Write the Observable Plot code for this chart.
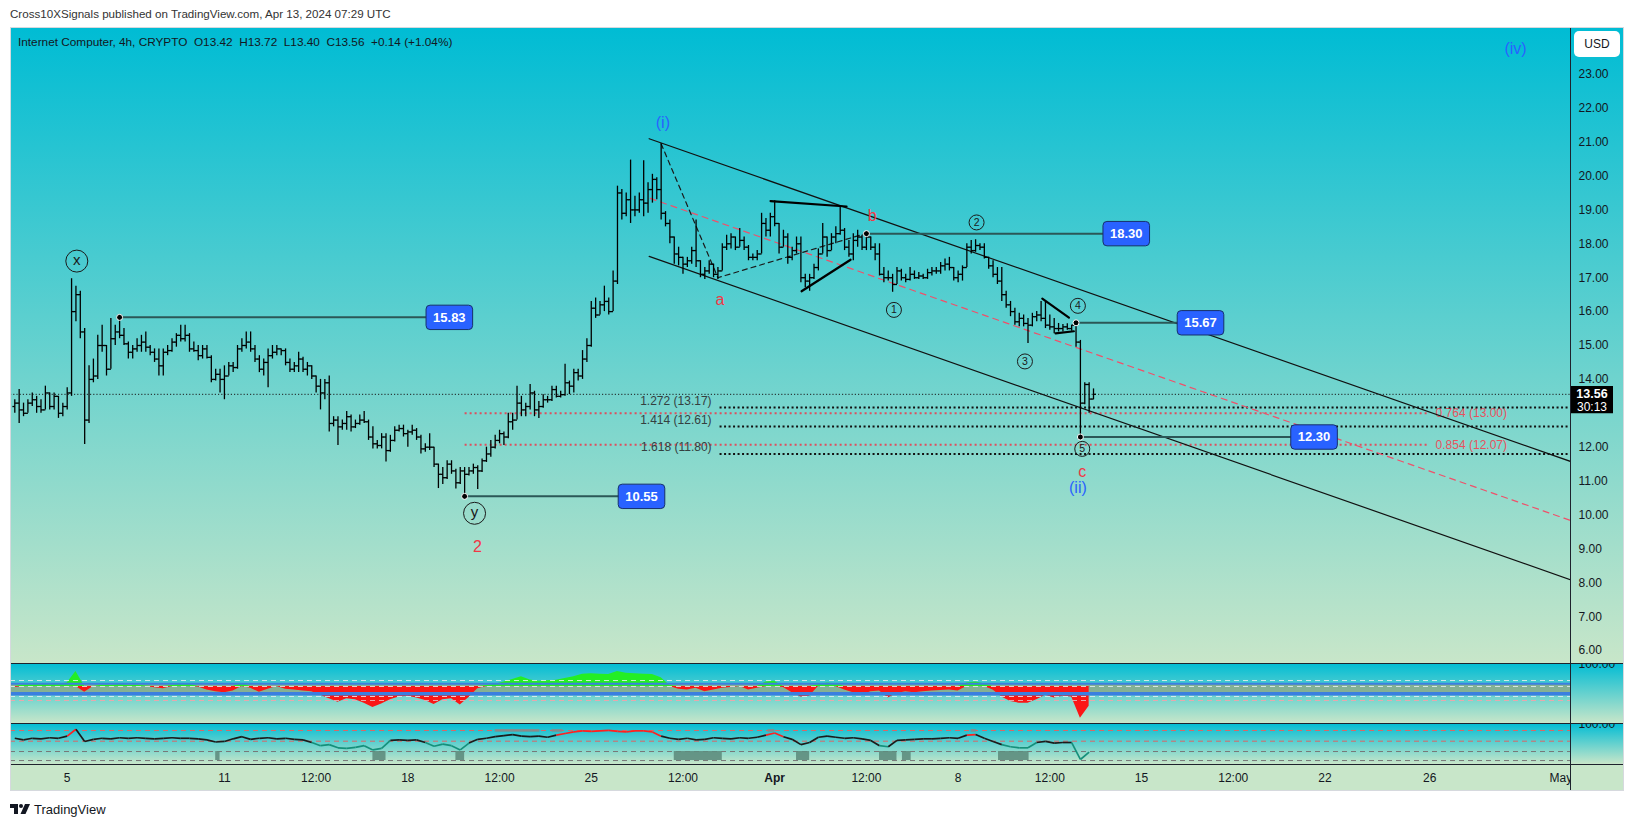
<!DOCTYPE html>
<html><head><meta charset="utf-8">
<script src="https://cdn.jsdelivr.net/npm/d3@7"></script>
<script src="https://cdn.jsdelivr.net/npm/@observablehq/plot@0.6"></script>
<style>
body{margin:0;background:#fff;width:1634px;height:827px;position:relative;overflow:hidden;font-family:"Liberation Sans",Arial,sans-serif;}
.abs{position:absolute;}
.grad{background:linear-gradient(to bottom,#00bcd4,#c8e6c9);}
.hl{position:absolute;left:10px;width:1614px;height:1px;background:#1e222d;}
</style></head><body>
<div class="abs" style="left:10px;top:7px;font-size:11.6px;color:#333;white-space:pre">Cross10XSignals published on TradingView.com, Apr 13, 2024 07:29 UTC</div>
<div class="abs grad" style="left:10px;top:27px;width:1614px;height:636px"></div>
<div class="abs grad" style="left:10px;top:663px;width:1614px;height:60px"></div>
<div class="abs grad" style="left:10px;top:723px;width:1614px;height:41px"></div>
<div class="abs" style="left:10px;top:764px;width:1614px;height:27px;background:#c8e6c9"></div>
<div id="main" class="abs" style="left:0;top:27px"></div>
<div id="p1" class="abs" style="left:0;top:663px"></div>
<div id="p2" class="abs" style="left:0;top:723px"></div>
<div id="tx" class="abs" style="left:0;top:764px"></div>
<div class="hl" style="top:663px"></div>
<div class="hl" style="top:723px"></div>
<div class="hl" style="top:764px"></div>
<div class="abs" style="left:1570px;top:27px;width:1px;height:764px;background:#1e222d"></div>
<div class="abs" style="left:10px;top:27px;width:1614px;height:764px;border:1px solid #d6d9de;box-sizing:border-box"></div>
<div class="abs" style="left:18px;top:35px;font-size:11.8px;color:#131722;white-space:pre">Internet Computer, 4h, CRYPTO  O13.42  H13.72  L13.40  C13.56  +0.14 (+1.04%)</div>
<div class="abs" style="left:1574px;top:31px;width:46px;height:26px;background:#fff;border-radius:5px;font-size:12px;color:#131722;text-align:center;line-height:26px">USD</div>
<div class="abs" style="left:10px;top:801px;height:16px;display:flex;align-items:center;gap:3px">
<svg width="21" height="12" viewBox="0 0 21 12"><path d="M0 1h8v10h-4v-6h-4z" fill="#131722"/><circle cx="11" cy="3" r="2" fill="#131722"/><path d="M15 1h5l-4.5 10h-5z" fill="#131722"/></svg>
<span style="font-size:13px;color:#131722">TradingView</span></div>
<script>
// ---------- data ----------
const barStart = "2024-03-03T00:00:00Z"; // 4h bars
const open = [
13.2,13.3,13.1,13.0,13.3,13.4, 13.2,13.1,13.6,13.2,13.5,13.0,
13.2,13.6,16.0,16.5,15.4,12.8, 14.0,14.1,15.0,15.0,14.3,15.2,
15.4,15.3,15.05,14.8,14.9,15.0, 15.1,14.95,14.8,14.6,14.4,14.8,
14.85,15.1,15.3,15.2,15.3,14.9, 14.85,14.7,14.9,14.65,14.0,14.15,
14.0,14.1,14.4,14.35,14.9,15.0, 15.1,14.9,14.6,14.3,14.5,14.7,
14.8,14.9,14.85,14.5,14.3,14.4, 14.6,14.3,14.4,14.1,13.8,13.6,
13.9,12.7,12.8,12.6,12.7,12.9, 12.6,12.7,12.8,12.75,12.3,12.1,
12.05,12.3,11.9,12.2,12.5,12.55, 12.4,12.45,12.5,12.3,11.95,12.0,
12.0,11.5,11.2,11.1,11.5,11.3, 10.95,11.3,11.2,11.3,11.4,11.3,
11.6,11.8,12.0,12.2,12.4,12.3, 12.75,12.8,13.3,13.1,13.2,13.6,
13.1,13.2,13.4,13.4,13.7,13.5, 13.55,13.9,13.8,14.2,14.1,14.6,
15.0,16.1,15.9,16.2,16.3,16.0, 16.9,19.5,18.9,19.3,19.0,19.0,
19.3,19.2,19.6,19.9,19.6,18.9, 18.6,18.2,17.7,17.6,17.4,17.5,
17.8,17.5,17.1,17.2,17.4,17.1, 17.2,17.9,18.0,18.2,17.9,18.1,
17.9,17.6,17.6,17.7,18.6,18.4, 18.8,18.6,17.9,18.2,17.6,17.8,
18.0,17.0,16.9,17.0,17.3,17.7, 18.2,17.8,18.2,18.3,18.4,17.9,
17.7,18.1,18.2,17.9,18.2,17.9, 17.7,17.1,17.0,17.0,16.8,17.2,
17.0,16.95,17.1,17.0,17.05,17.0, 17.15,17.2,17.2,17.35,17.4,17.3,
17.0,17.1,17.3,17.9,17.8,17.95, 17.9,17.6,17.35,17.1,16.9,16.5,
16.2,16.0,15.7,15.8,15.65,15.6, 15.85,15.9,15.8,15.6,15.55,15.5,
15.5,15.55,15.5,15.6,15.1,13.3, 13.85,13.42];
const high = [
13.4,13.7,13.3,13.4,13.6,13.5, 13.4,13.8,13.6,13.6,13.5,13.3,
13.75,16.97,16.75,16.6,15.5,14.4, 14.6,15.3,15.6,15.0,15.8,15.6,
15.83,15.5,15.1,15.0,15.2,15.3, 15.4,15.0,14.9,14.9,14.9,15.0,
15.2,15.35,15.6,15.6,15.35,15.1, 15.0,15.0,15.0,14.7,14.3,14.3,
14.4,14.5,14.5,15.0,15.2,15.4, 15.4,15.0,14.7,14.6,14.9,15.0,
15.0,14.9,14.9,14.6,14.5,14.8, 14.65,14.5,14.4,14.1,14.0,14.0,
14.1,12.9,12.9,12.8,13.05,12.95, 12.8,12.95,13.05,12.8,12.6,12.2,
12.4,12.4,12.35,12.6,12.65,12.65, 12.5,12.65,12.55,12.35,12.1,12.4,
12.0,11.5,11.4,11.6,11.6,11.35, 11.4,11.4,11.4,11.5,11.45,11.65,
12.0,12.2,12.35,12.5,12.45,13.0, 13.0,13.8,13.5,13.3,13.85,13.65,
13.35,13.55,13.5,13.8,13.8,13.65, 14.45,13.95,14.3,14.3,14.85,15.2,
16.3,16.4,16.3,16.75,16.4,17.2, 19.7,19.6,19.5,20.47,19.4,19.5,
20.45,19.8,20.05,19.95,20.95,18.95, 18.7,18.2,17.9,17.6,17.6,17.9,
18.7,17.5,17.3,17.5,17.4,17.3, 18.0,18.25,18.3,18.2,18.45,18.2,
17.95,17.7,17.8,18.9,18.75,18.9, 19.27,18.6,18.4,18.3,17.9,18.2,
18.2,17.1,17.1,17.4,17.85,18.6, 18.2,18.3,18.5,19.13,18.45,18.1,
18.3,18.4,18.25,18.31,18.2,18.0, 18.0,17.3,17.2,17.1,17.3,17.25,
17.1,17.3,17.2,17.15,17.1,17.25, 17.3,17.3,17.45,17.55,17.6,17.3,
17.2,17.35,18.0,18.1,18.12,18.0, 18.0,17.6,17.5,17.3,17.3,16.6,
16.3,16.1,15.95,15.9,15.8,15.95, 16.0,16.3,16.3,15.9,15.8,15.65,
15.62,15.64,15.6,15.67,15.15,13.9, 13.9,13.72];
const low = [
13.0,12.7,12.9,13.0,13.2,13.0, 13.0,13.1,13.1,13.1,12.85,12.9,
13.1,13.5,15.7,15.2,12.08,12.7, 13.9,14.0,14.8,14.1,14.3,15.0,
15.2,15.0,14.6,14.6,14.8,14.8, 14.8,14.7,14.5,14.1,14.1,14.7,
14.8,14.95,15.1,15.1,14.8,14.8, 14.55,14.6,14.6,13.9,13.95,13.6,
13.4,14.1,14.2,14.3,14.8,14.9, 14.8,14.5,14.2,14.1,13.75,14.6,
14.7,14.7,14.4,14.2,14.2,14.2, 14.2,14.1,14.0,13.6,13.1,13.4,
12.45,12.6,12.05,12.5,12.5,12.45, 12.55,12.65,12.7,12.2,11.95,11.95,
11.95,11.56,11.85,12.15,12.45,12.3, 12.0,12.35,12.2,11.8,11.85,11.9,
11.4,10.78,10.9,11.05,11.2,10.77, 10.9,10.55,11.15,11.2,10.75,11.25,
11.55,11.7,11.95,12.1,12.05,12.25, 12.5,12.8,12.9,12.9,13.1,12.9,
12.85,13.15,13.3,13.35,13.45,13.45, 13.5,13.55,13.6,13.95,14.0,14.5,
14.95,15.8,15.9,16.0,15.9,16.0, 16.8,18.7,18.8,18.6,18.8,18.9,
18.8,18.9,19.2,19.3,18.7,18.5, 18.0,17.4,17.35,17.1,17.3,17.4,
17.3,17.0,16.95,17.1,17.0,16.95, 17.2,17.8,17.85,17.8,17.9,17.8,
17.5,17.5,17.5,17.7,18.2,18.2, 18.5,17.7,17.9,17.4,17.5,17.7,
16.85,16.7,16.6,16.95,17.2,17.7, 17.6,17.8,18.0,18.25,17.8,17.6,
17.5,17.9,17.8,17.8,17.8,17.5, 17.05,16.85,16.9,16.57,16.8,16.9,
16.85,16.9,16.95,16.95,16.95,16.95, 17.05,17.1,17.1,17.2,17.2,16.9,
16.85,16.9,17.3,17.7,17.75,17.8, 17.55,17.25,17.0,16.8,16.3,16.1,
15.85,15.6,15.55,15.55,15.06,15.55, 15.7,15.7,15.5,15.45,15.35,15.4,
15.4,15.45,15.42,14.95,12.3,13.25, 13.0,13.40];
const close = [
13.3,13.1,13.0,13.3,13.4,13.2, 13.1,13.6,13.2,13.5,13.0,13.2,
13.6,16.0,16.5,15.4,12.8,14.0, 14.1,15.0,15.0,14.3,15.2,15.4,
15.3,15.05,14.8,14.9,15.0,15.1, 14.95,14.8,14.6,14.4,14.8,14.85,
15.1,15.3,15.2,15.3,14.9,14.85, 14.7,14.9,14.65,14.0,14.15,14.0,
14.1,14.4,14.35,14.9,15.0,15.1, 14.9,14.6,14.3,14.5,14.7,14.8,
14.9,14.85,14.5,14.3,14.4,14.6, 14.3,14.4,14.1,13.8,13.6,13.9,
12.7,12.8,12.6,12.7,12.9,12.6, 12.7,12.8,12.75,12.3,12.1,12.05,
12.3,11.9,12.2,12.5,12.55,12.4, 12.45,12.5,12.3,11.95,12.0,12.0,
11.5,11.2,11.1,11.5,11.3,10.95, 11.3,11.2,11.3,11.4,11.3,11.6,
11.8,12.0,12.2,12.4,12.3,12.75, 12.8,13.3,13.1,13.2,13.6,13.1,
13.2,13.4,13.4,13.7,13.5,13.55, 13.9,13.8,14.2,14.1,14.6,15.0,
16.1,15.9,16.2,16.3,16.0,16.9, 19.5,18.9,19.3,19.0,19.0,19.3,
19.2,19.6,19.9,19.6,18.9,18.6, 18.2,17.7,17.6,17.4,17.5,17.8,
17.5,17.1,17.2,17.4,17.1,17.2, 17.9,18.0,18.2,17.9,18.1,17.9,
17.6,17.6,17.7,18.6,18.4,18.8, 18.6,17.9,18.2,17.6,17.8,18.0,
17.0,16.9,17.0,17.3,17.7,18.2, 17.8,18.2,18.3,18.4,17.9,17.7,
18.1,18.2,17.9,18.2,17.9,17.7, 17.1,17.0,17.0,16.8,17.2,17.0,
16.95,17.1,17.0,17.05,17.0,17.15, 17.2,17.2,17.35,17.4,17.3,17.0,
17.1,17.3,17.9,17.8,17.95,17.9, 17.6,17.35,17.1,16.9,16.5,16.2,
16.0,15.7,15.8,15.65,15.6,15.85, 15.9,15.8,15.6,15.55,15.5,15.5,
15.55,15.5,15.6,15.1,13.3,13.85, 13.42,13.56];
const lastClose = 13.56;
const countdown = "30:13";

// swing pivots with their value boxes
const pivotTime = ["2024-03-07T00:00Z","2024-03-20T04:00Z","2024-04-04T12:00Z","2024-04-12T12:00Z","2024-04-12T16:00Z"];
const pivotPrice = [15.83, 10.55, 18.30, 15.67, 12.30];
const pivotBoxTime = ["2024-03-19T14:00Z","2024-03-26T22:00Z","2024-04-14T10:00Z","2024-04-17T06:00Z","2024-04-21T14:00Z"];

// channel and drawings (time, price anchors)
const channelUpper = [["2024-03-27T05:00Z",21.10],["2024-05-01T08:53Z",11.58]];
const channelLower = [["2024-03-27T05:00Z",17.63],["2024-05-01T08:53Z",8.09]];
const channelMid   = [["2024-03-27T06:00Z",19.34],["2024-05-01T08:53Z",9.84]];
const abcPath = [["2024-03-27T16:00Z",20.95],["2024-03-29T20:00Z",17.0],["2024-04-04T12:00Z",18.31]];
const triangles = [
  [["2024-03-31T20:12Z",19.26],["2024-04-03T17:48Z",19.10]],
  [["2024-04-02T00:36Z",16.60],["2024-04-03T21:30Z",17.53]],
  [["2024-04-11T05:06Z",16.38],["2024-04-12T05:30Z",15.82]],
  [["2024-04-11T17:18Z",15.36],["2024-04-12T10:00Z",15.42]]];

// fibonacci levels
const fibExtValues = [13.17, 12.61, 11.80];
const fibExtLabels = ["1.272 (13.17)", "1.414 (12.61)", "1.618 (11.80)"];
const fibExtStart = "2024-03-29T21:30Z";
const fibRetValues = [13.00, 12.07];
const fibRetLabels = ["0.764 (13.00)", "0.854 (12.07)"];
const fibRetStart = "2024-03-20T04:00Z", fibRetEnd = "2024-04-25T22:00Z";

// wave labels
const bigCircleLabels = [["2024-03-05T08:48Z",17.49,"x"],["2024-03-20T13:06Z",10.05,"y"]];
const smallCircleLabels = [["2024-04-05T13:12Z",16.05,"1"],["2024-04-08T16:54Z",18.63,"2"],["2024-04-10T13:12Z",14.53,"3"],["2024-04-12T13:42Z",16.17,"4"],["2024-04-12T17:42Z",11.95,"5"]];
const redLabels = [["2024-03-20T15:48Z",9.07,"2"],["2024-03-29T21:48Z",16.35,"a"],["2024-04-04T17:24Z",18.83,"b"],["2024-04-12T17:42Z",11.26,"c"]];
const blueLabels = [["2024-03-27T17:36Z",21.56,"(i)"],["2024-04-12T13:42Z",10.79,"(ii)"],["2024-04-29T06:36Z",23.75,"(iv)"]];

// price axis (13.00 is hidden behind the last-price tag)
const priceTicks = [6,7,8,9,10,11,12,14,15,16,17,18,19,20,21,22,23];

// indicator 1 (8h samples)
const osc1 = [48,54,54,55,54,55,58,84,37,50, 53,52,55,52,53,51,47,45,52,56,
 55,49,42,38,36,40,57,46,37,44, 50,44,42,40,38,30,22,14,22,20,
 12,2,10,20,26,28,24,18,9,20, 22,8,25,45,52,55,60,66,72,65,
 62,63,64,68,72,78,79,78,77,84, 80,79,78,77,70,52,44,42,46,38,
 42,46,48,50,42,46,60,62,48,36, 26,28,54,58,56,42,36,30,38,40,
 24,34,38,36,38,40,41,42,40,58, 60,56,42,26,16,12,12,20,30,24,
 28,26,-22,5];
const osc1Base = 50;
const osc1Dashed = [63.6, 50, 27.3];
const osc1Blue = [56.1, 33.4];
const osc1Pink = [18.2];
// indicator 2 (8h samples)
const osc2 = [74,71,74,73,75,74,78,91,68,72, 74,73,75,74,75,74,73,74,75,74,
 74,73,71,67,68,73,77,72,74,75, 73,74,72,71,66,60,62,56,55,57,
 60,52,55,70,71,70,71,66,59,63, 60,52,65,72,74,77,79,81,78,77,
 78,76,80,83,86,88,87,88,89,87, 86,88,88,86,78,74,72,74,71,72,
 75,74,73,75,74,76,80,84,77,72, 62,66,76,78,76,74,75,73,70,60,
 58,70,71,72,73,73,74,75,74,80, 81,74,68,62,58,56,56,66,68,65,
 66,66,34,48];
const osc2RedLevels = [88.7, 68.5];
const osc2GrayLevels = [49, 32];
const lowBlocks = [["2024-03-10T16:00Z","2024-03-10T20:00Z"],["2024-03-16T16:00Z","2024-03-17T04:00Z"],["2024-03-19T20:00Z","2024-03-20T04:00Z"],["2024-03-28T04:00Z","2024-03-30T00:00Z"],["2024-04-01T20:00Z","2024-04-02T08:00Z"],["2024-04-05T00:00Z","2024-04-05T16:00Z"],["2024-04-05T21:00Z","2024-04-06T05:00Z"],["2024-04-09T13:00Z","2024-04-10T17:00Z"]];
const highBlocks = [["2024-03-21T08:00Z","2024-03-23T01:00Z"],["2024-03-23T12:00Z","2024-03-23T22:00Z"],["2024-03-31T18:00Z","2024-04-01T00:00Z"],["2024-04-08T12:00Z","2024-04-08T17:00Z"]];

// time axis
const timeTicks = ["2024-03-05","2024-03-11","2024-03-14T12:00Z","2024-03-18","2024-03-21T12:00Z","2024-03-25","2024-03-28T12:00Z","2024-04-01","2024-04-04T12:00Z","2024-04-08","2024-04-11T12:00Z","2024-04-15","2024-04-18T12:00Z","2024-04-22","2024-04-26","2024-05-01"];
const timeLabels = ["5","11","12:00","18","12:00","25","12:00","Apr","12:00","8","12:00","15","12:00","22","26","May"];

// ---------- build ----------
const H4 = 4*3600e3, H8 = 8*3600e3, t0 = Date.parse(barStart);
const bars = close.map((c,i)=>({t:new Date(t0+i*H4), o:open[i], h:high[i], l:low[i], c}));
const pivots = pivotPrice.map((p,i)=>({t:new Date(pivotTime[i]), bt:new Date(pivotBoxTime[i]), p}));
const pts = a => a.map(([t,p])=>({t:new Date(t), p}));
const lab = a => a.map(([t,p,s])=>({t:new Date(t), p, s}));
const o1 = osc1.map((v,k)=>({t:new Date(t0+k*H8), v}));
const o2 = osc2.map((v,k)=>({t:new Date(t0+k*H8), v}));
const segs = d3.pairs(o2).map(([a,b])=>({a,b}));
const blk = a => a.map(([s,e])=>({s:new Date(s), e:new Date(e)}));

const leftTick = {draw(c){c.moveTo(-2.4,0);c.lineTo(0,0);}};
const rightTick = {draw(c){c.moveTo(0,0);c.lineTo(2.4,0);}};
function rr(c,x,y,w,h,r){c.moveTo(x+r,y);c.lineTo(x+w-r,y);c.arcTo(x+w,y,x+w,y+r,r);c.lineTo(x+w,y+h-r);c.arcTo(x+w,y+h,x+w-r,y+h,r);c.lineTo(x+r,y+h);c.arcTo(x,y+h,x,y+h-r,r);c.lineTo(x,y+r);c.arcTo(x,y,x+r,y,r);c.closePath();}
const labelBox = {draw(c){rr(c,-23.3,-12.2,46.6,24.4,4);}};
const priceBox = {draw(c){c.moveTo(-21,-8.3);c.lineTo(21,-8.3);c.lineTo(21,19);c.lineTo(-21,19);c.closePath();}};

const FONT = "Liberation Sans, Arial, sans-serif";
const X = {type:"utc", domain:[new Date("2024-03-02T20:04:00Z"), new Date("2024-05-01T08:53:00Z")], axis:null};
const base = {width:1634, marginLeft:10, marginRight:64, marginTop:0, marginBottom:0,
  style:{background:"transparent", overflow:"hidden", fontFamily:FONT}};

const main = Plot.plot({...base, height:636, x:X, y:{domain:[5.619,24.381], axis:null},
  marks:[
    Plot.ruleY([lastClose], {stroke:"#1b1b1b", strokeWidth:1, strokeDasharray:"1.2,2"}),
    Plot.link(fibRetValues, {x1:()=>new Date(fibRetStart), x2:()=>new Date(fibRetEnd), y1:d=>d, y2:d=>d, stroke:"#f0364a", strokeWidth:2, strokeDasharray:"2,3", strokeOpacity:0.85}),
    Plot.text(fibRetValues, {x:()=>new Date(fibRetEnd), y:d=>d, text:(d,i)=>fibRetLabels[i], dx:8, textAnchor:"start", fill:"#e8515e", fontSize:12}),
    Plot.link(fibExtValues, {x1:()=>new Date(fibExtStart), x2:()=>X.domain[1], y1:d=>d, y2:d=>d, stroke:"#111", strokeWidth:2, strokeDasharray:"2,2.5"}),
    Plot.text(fibExtValues, {x:()=>new Date(fibExtStart), y:d=>d, text:(d,i)=>fibExtLabels[i], dx:-8, dy:-3, lineAnchor:"bottom", textAnchor:"end", fill:"#34403f", fontSize:12}),
    Plot.line(pts(channelMid), {x:"t", y:"p", stroke:"#f0506a", strokeWidth:1.2, strokeDasharray:"6,5", clip:true}),
    Plot.line(pts(channelUpper), {x:"t", y:"p", stroke:"#111", strokeWidth:1.2, clip:true}),
    Plot.line(pts(channelLower), {x:"t", y:"p", stroke:"#111", strokeWidth:1.2, clip:true}),
    Plot.line(pts(abcPath), {x:"t", y:"p", stroke:"#1a1a1a", strokeWidth:1.2, strokeDasharray:"5,4"}),
    ...triangles.map(tr=>Plot.line(pts(tr), {x:"t", y:"p", stroke:"#000", strokeWidth:2.2})),
    Plot.ruleX(bars, {x:"t", y1:"l", y2:"h", stroke:"#000", strokeWidth:1.3, clip:true}),
    Plot.dot(bars, {x:"t", y:"o", symbol:leftTick, fill:"none", stroke:"#000", strokeWidth:1.3, clip:true}),
    Plot.dot(bars, {x:"t", y:"c", symbol:rightTick, fill:"none", stroke:"#000", strokeWidth:1.3, clip:true}),
    Plot.link(pivots, {x1:"t", x2:"bt", y1:"p", y2:"p", stroke:"#2b5757", strokeWidth:2}),
    Plot.dot(pivots, {x:"t", y:"p", r:3, fill:"#000", stroke:"#fff", strokeWidth:1}),
    Plot.dot(pivots, {x:"bt", y:"p", symbol:labelBox, fill:"#2962ff", stroke:"#17306b", strokeWidth:1}),
    Plot.text(pivots, {x:"bt", y:"p", text:d=>d.p.toFixed(2), fill:"#fff", fontWeight:"bold", fontSize:13}),
    Plot.dot(lab(bigCircleLabels), {x:"t", y:"p", r:11, fill:"none", stroke:"#1a1a1a", strokeWidth:1}),
    Plot.text(lab(bigCircleLabels), {x:"t", y:"p", text:"s", fill:"#1a1a1a", fontSize:15, dy:-1}),
    Plot.dot(lab(smallCircleLabels), {x:"t", y:"p", r:7.5, fill:"none", stroke:"#1a1a1a", strokeWidth:1}),
    Plot.text(lab(smallCircleLabels), {x:"t", y:"p", text:"s", fill:"#1a1a1a", fontSize:10.5}),
    Plot.text(lab(redLabels), {x:"t", y:"p", text:"s", fill:"#f23645", fontSize:16}),
    Plot.text(lab(blueLabels), {x:"t", y:"p", text:"s", fill:"#2962ff", fontSize:16}),
    Plot.text(priceTicks, {y:d=>d, text:d=>d.toFixed(2), frameAnchor:"right", dx:8, textAnchor:"start", fill:"#131722", fontSize:12}),
    Plot.dot([lastClose], {y:d=>d, frameAnchor:"right", dx:21.5, symbol:priceBox, fill:"#000", stroke:"none"}),
    Plot.text([lastClose], {y:d=>d, frameAnchor:"right", dx:21.5, textAnchor:"middle", text:d=>d.toFixed(2), fill:"#fff", fontWeight:"bold", fontSize:12.5}),
    Plot.text([countdown], {y:()=>lastClose, frameAnchor:"right", dx:21.5, dy:13, textAnchor:"middle", text:d=>d, fill:"#fff", fontSize:12})
  ]});
document.getElementById("main").append(main);

const p1 = Plot.plot({...base, height:60, x:X, y:{domain:[-34.09,102.27], axis:null},
  marks:[
    Plot.rect([0], {y1:()=>osc1Blue[1], y2:()=>osc1Blue[0], fill:"#8caa8a", fillOpacity:0.85}),
    Plot.areaY(o1, {x:"t", y1:()=>osc1Base, y2:d=>Math.max(d.v,osc1Base), fill:"#24ee24", clip:true}),
    Plot.areaY(o1, {x:"t", y1:()=>osc1Base, y2:d=>Math.min(d.v,osc1Base), fill:"#fb1616", clip:true}),
    Plot.ruleY(osc1Blue, {stroke:"#3b7fe0", strokeWidth:(d,i)=>i?3.5:2}),
    Plot.ruleY(osc1Dashed, {stroke:"#e6eef0", strokeOpacity:0.85, strokeWidth:1, strokeDasharray:"5,4"}),
    Plot.ruleY(osc1Pink, {stroke:"#e9a7ad", strokeWidth:1, strokeDasharray:"5,4"}),
    Plot.text(["100.00"], {frameAnchor:"top-right", dx:8, dy:1, textAnchor:"start", lineAnchor:"middle", fill:"#131722", fontSize:12})
  ]});
document.getElementById("p1").append(p1);

const c2 = v => v > 80 ? "#ff2020" : v < 64 ? "#15907b" : "#1b1b1b";
const p2 = Plot.plot({...base, height:41, x:X, y:{domain:[24.53,101.89], axis:null},
  marks:[
    Plot.ruleY(osc2RedLevels, {stroke:"#d96868", strokeWidth:1, strokeDasharray:"5,4"}),
    Plot.ruleY(osc2GrayLevels, {stroke:"#777", strokeWidth:1, strokeDasharray:"5,4"}),
    Plot.rect(blk(lowBlocks), {x1:"s", x2:"e", y1:()=>osc2GrayLevels[1], y2:()=>osc2GrayLevels[0], fill:"#5e8d7e", fillOpacity:0.9}),
    Plot.rect(blk(highBlocks), {x1:"s", x2:"e", y1:()=>85.5, y2:()=>90.5, fill:"#8a8a8a", fillOpacity:0.9}),
    Plot.link(segs, {x1:d=>d.a.t, y1:d=>d.a.v, x2:d=>d.b.t, y2:d=>d.b.v, stroke:d=>c2((d.a.v+d.b.v)/2), strokeWidth:1.7}),
    Plot.text(["100.00"], {frameAnchor:"top-right", dx:8, dy:1, textAnchor:"start", lineAnchor:"middle", fill:"#131722", fontSize:12})
  ]});
document.getElementById("p2").append(p2);

const ticks = timeTicks.map((d,i)=>({t:new Date(d), s:timeLabels[i]}));
const tx = Plot.plot({...base, height:27, x:X, y:{axis:null},
  marks:[
    Plot.text(ticks.filter(d=>d.s!=="Apr"), {x:"t", text:"s", frameAnchor:"middle", fill:"#131722", fontSize:12, clip:true}),
    Plot.text(ticks.filter(d=>d.s==="Apr"), {x:"t", text:"s", frameAnchor:"middle", fill:"#131722", fontSize:12, fontWeight:"bold", clip:true})
  ]});
document.getElementById("tx").append(tx);
</script>
</body></html>
